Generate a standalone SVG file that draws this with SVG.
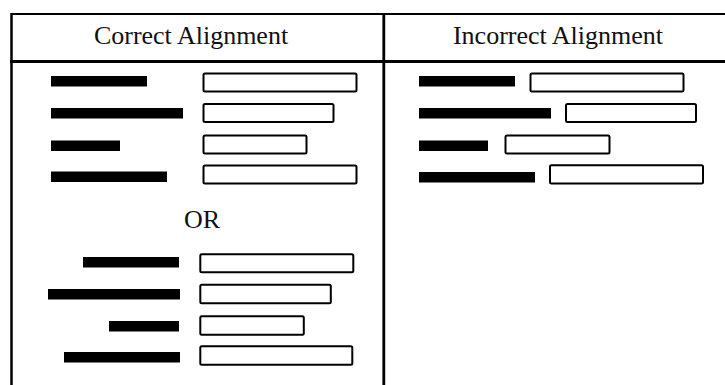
<svg xmlns="http://www.w3.org/2000/svg" width="725" height="385" viewBox="0 0 725 385">
<style>
.frame{stroke:#000;fill:none}
.t{font-family:"Liberation Serif","Times New Roman",serif;font-size:26px;fill:#111;text-anchor:middle}
.bar{fill:#000}
.box{fill:#fff;stroke:#000;stroke-width:2;rx:1.5}
</style>
<rect width="725" height="385" fill="#fff"/>
<g id="table" class="frame">
<line x1="11.5" y1="14" x2="725" y2="14" stroke-width="2.2"/>
<line x1="11.5" y1="13" x2="11.5" y2="385" stroke-width="2.5"/>
<line x1="383.8" y1="13" x2="383.8" y2="385" stroke-width="2.8"/>
<line x1="10" y1="61.5" x2="725" y2="61.5" stroke-width="3"/>
</g>
<g id="headers">
<text class="t" x="191" y="43.5">Correct Alignment</text>
<text class="t" x="558" y="43.5">Incorrect Alignment</text>
</g>
<g id="correct-left">
<rect class="bar" x="51" y="76" width="96" height="10.5"/>
<rect class="bar" x="51" y="108" width="132" height="10.5"/>
<rect class="bar" x="51" y="140.5" width="69" height="10.5"/>
<rect class="bar" x="51" y="171.5" width="116" height="10.5"/>
<rect class="box" x="203.5" y="73.5" width="153" height="18"/>
<rect class="box" x="203.5" y="104" width="130" height="18"/>
<rect class="box" x="203.5" y="135.5" width="103" height="18"/>
<rect class="box" x="203.5" y="165.5" width="153" height="18"/>
</g>
<g id="or">
<text class="t" x="202" y="227.5">OR</text>
</g>
<g id="correct-right">
<rect class="bar" x="83" y="257" width="96" height="10.5"/>
<rect class="bar" x="48" y="289" width="132" height="10.5"/>
<rect class="bar" x="109" y="321" width="70" height="10.5"/>
<rect class="bar" x="64" y="352" width="116" height="10.5"/>
<rect class="box" x="200.3" y="254.3" width="153" height="18"/>
<rect class="box" x="200.3" y="284.7" width="130.5" height="18.6"/>
<rect class="box" x="200.3" y="316.3" width="103.5" height="18.5"/>
<rect class="box" x="200.3" y="346.3" width="152" height="18.5"/>
</g>
<g id="incorrect">
<rect class="bar" x="419" y="76" width="96" height="10.5"/>
<rect class="bar" x="419" y="108" width="132" height="10.5"/>
<rect class="bar" x="419" y="140.5" width="69" height="10.5"/>
<rect class="bar" x="419" y="172" width="116" height="10.5"/>
<rect class="box" x="530.5" y="73.5" width="153" height="18"/>
<rect class="box" x="566" y="104" width="130" height="18"/>
<rect class="box" x="505.5" y="135.5" width="104" height="18"/>
<rect class="box" x="550" y="165.3" width="153" height="18.3"/>
</g>
</svg>
